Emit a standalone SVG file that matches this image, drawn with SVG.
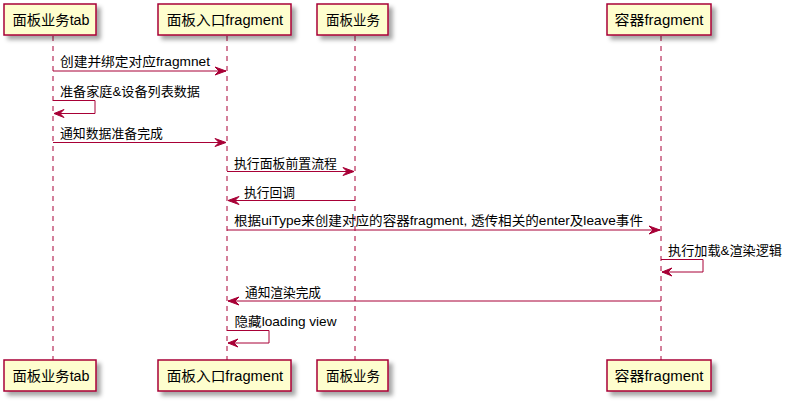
<svg xmlns="http://www.w3.org/2000/svg" width="790" height="404" viewBox="0 0 790 404">
<defs>
<filter id="sh" x="-10%" y="-20%" width="130%" height="160%">
<feGaussianBlur in="SourceAlpha" stdDeviation="2"/>
<feOffset dx="4" dy="4" result="b"/>
<feColorMatrix in="b" type="matrix" values="0 0 0 0 0  0 0 0 0 0  0 0 0 0 0  0 0 0 0.35 0"/>
<feMerge><feMergeNode/><feMergeNode in="SourceGraphic"/></feMerge>
</filter>
</defs>
<style>
.box{fill:#FEFECE;stroke:#A80036;stroke-width:1.5;filter:url(#sh)}
.pt{font-family:"Liberation Sans","Noto Sans CJK SC",sans-serif;font-size:14px;fill:#000}
.mt{font-family:"Liberation Sans","Noto Sans CJK SC",sans-serif;font-size:13px;fill:#000}
.life{stroke:#A80036;stroke-width:1;stroke-dasharray:5,5;fill:none}
.msg{stroke:#A80036;stroke-width:1;fill:none}
.ah{fill:#A80036;stroke:#A80036;stroke-width:1}
</style>
<rect width="790" height="404" fill="#FFFFFF"/>
<g id="lifelines">
<line class="life" x1="53" y1="36" x2="53" y2="360"/>
<line class="life" x1="227" y1="36" x2="227" y2="360"/>
<line class="life" x1="355" y1="36" x2="355" y2="360"/>
<line class="life" x1="661" y1="36" x2="661" y2="360"/>
</g>
<g id="p1">
<rect class="box" x="4" y="4" width="92" height="31"/>
<text class="pt" x="12.5" y="25" textLength="77" lengthAdjust="spacingAndGlyphs">面板业务tab</text>
<rect class="box" x="4" y="360" width="92" height="31"/>
<text class="pt" x="12.5" y="381" textLength="77" lengthAdjust="spacingAndGlyphs">面板业务tab</text>
</g>
<g id="p2">
<rect class="box" x="158" y="4" width="133" height="31"/>
<text class="pt" x="166.7" y="25" textLength="116.5" lengthAdjust="spacingAndGlyphs">面板入口fragment</text>
<rect class="box" x="158" y="360" width="133" height="31"/>
<text class="pt" x="166.7" y="381" textLength="116.5" lengthAdjust="spacingAndGlyphs">面板入口fragment</text>
</g>
<g id="p3">
<rect class="box" x="317" y="4" width="71" height="31"/>
<text class="pt" x="326" y="25" textLength="54" lengthAdjust="spacingAndGlyphs">面板业务</text>
<rect class="box" x="317" y="360" width="71" height="31"/>
<text class="pt" x="326" y="381" textLength="54" lengthAdjust="spacingAndGlyphs">面板业务</text>
</g>
<g id="p4">
<rect class="box" x="607" y="4" width="104" height="31"/>
<text class="pt" x="614.5" y="25" textLength="89" lengthAdjust="spacingAndGlyphs">容器fragment</text>
<rect class="box" x="607" y="360" width="104" height="31"/>
<text class="pt" x="614.5" y="381" textLength="89" lengthAdjust="spacingAndGlyphs">容器fragment</text>
</g>
<g id="connectors">
<line class="msg" x1="53" y1="71" x2="226" y2="71"/>
<polygon class="ah" points="215,67 226,71 215,75 219,71"/>
<text class="mt" x="60" y="66" textLength="150" lengthAdjust="spacingAndGlyphs">创建并绑定对应fragmnet</text>

<polyline class="msg" points="53,100.5 95,100.5 95,113.5 54,113.5"/>
<polygon class="ah" points="64,109.5 54,113.5 64,117.5 60,113.5"/>
<text class="mt" x="60" y="95.5" textLength="140" lengthAdjust="spacingAndGlyphs">准备家庭&amp;设备列表数据</text>

<line class="msg" x1="53" y1="142.5" x2="226" y2="142.5"/>
<polygon class="ah" points="215,138.5 226,142.5 215,146.5 219,142.5"/>
<text class="mt" x="60" y="138" textLength="103" lengthAdjust="spacingAndGlyphs">通知数据准备完成</text>

<line class="msg" x1="227" y1="171.5" x2="354" y2="171.5"/>
<polygon class="ah" points="343,167.5 354,171.5 343,175.5 347,171.5"/>
<text class="mt" x="234" y="167.5" textLength="103" lengthAdjust="spacingAndGlyphs">执行面板前置流程</text>

<line class="msg" x1="355" y1="200.5" x2="228" y2="200.5"/>
<polygon class="ah" points="239,196.5 228,200.5 239,204.5 235,200.5"/>
<text class="mt" x="244" y="196.5" textLength="51" lengthAdjust="spacingAndGlyphs">执行回调</text>

<line class="msg" x1="227" y1="230" x2="660" y2="230"/>
<polygon class="ah" points="649,226 660,230 649,234 653,230"/>
<text class="mt" x="234" y="225" textLength="409" lengthAdjust="spacingAndGlyphs">根据uiType来创建对应的容器fragment, 透传相关的enter及leave事件</text>

<polyline class="msg" points="661,259.5 703,259.5 703,272 662,272"/>
<polygon class="ah" points="672,268 662,272 672,276 668,272"/>
<text class="mt" x="668" y="255" textLength="114" lengthAdjust="spacingAndGlyphs">执行加载&amp;渲染逻辑</text>

<line class="msg" x1="661" y1="301" x2="228" y2="301"/>
<polygon class="ah" points="239,297 228,301 239,305 235,301"/>
<text class="mt" x="245" y="297" textLength="76" lengthAdjust="spacingAndGlyphs">通知渲染完成</text>

<polyline class="msg" points="227,330.5 269,330.5 269,343 228,343"/>
<polygon class="ah" points="238,339 228,343 238,347 234,343"/>
<text class="mt" x="234.5" y="325.5" textLength="102" lengthAdjust="spacingAndGlyphs">隐藏loading view</text>
</g>
</svg>
